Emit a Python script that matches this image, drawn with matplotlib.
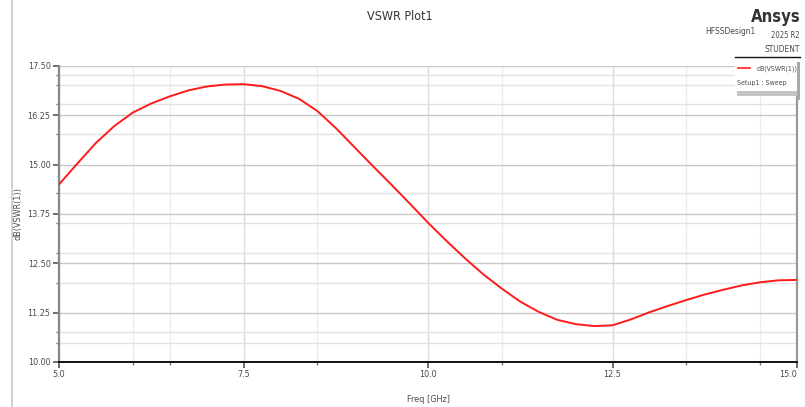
"""Ansys-style VSWR plot: dB(VSWR(1)) against frequency."""

import matplotlib
import matplotlib.pyplot as plt
from matplotlib import font_manager
from matplotlib.patches import Rectangle

matplotlib.use('Agg')

# values (GHz, dB)
freq_ghz = [5.0, 5.25, 5.5, 5.75, 6.0, 6.25, 6.5, 6.75, 7.0, 7.25, 7.5, 7.75,
            8.0, 8.25, 8.5, 8.75, 9.0, 9.25, 9.5, 9.75, 10.0, 10.25, 10.5, 10.75,
            11.0, 11.25, 11.5, 11.75, 12.0, 12.25, 12.5, 12.75, 13.0, 13.25,
            13.5, 13.75, 14.0, 14.25, 14.5, 14.75, 15.0]
vswr_db = [14.50, 15.03, 15.55, 15.98, 16.32, 16.55, 16.73, 16.88, 16.98, 17.03,
           17.04, 16.99, 16.87, 16.67, 16.36, 15.93, 15.45, 14.97, 14.50, 14.02,
           13.53, 13.07, 12.63, 12.22, 11.86, 11.53, 11.27, 11.07, 10.96, 10.91,
           10.93, 11.08, 11.26, 11.42, 11.57, 11.71, 11.83, 11.94, 12.02, 12.07,
           12.08]

x_ticks = [5.0, 7.5, 10.0, 12.5, 15.0]
x_tick_labels = ['5.0', '7.5', '10.0', '12.5', '15.0']
x_minor = [6.0, 6.5, 8.5, 11.0, 13.5, 14.5]
y_ticks = [10.0, 11.25, 12.5, 13.75, 15.0, 16.25, 17.5]
y_tick_labels = ['10.00', '11.25', '12.50', '13.75', '15.00', '16.25', '17.50']
y_minor = [10.48, 10.76, 12.0, 12.76, 13.52, 14.28, 15.78, 16.54, 17.02, 17.27]

names = {f.name for f in font_manager.fontManager.ttflist}
FONT = ['Liberation Sans Narrow'] if 'Liberation Sans Narrow' in names else ['DejaVu Sans']
STRETCH = 'condensed'
TXT = '#4a4a4a'


def txt(x_px, y_px, s, **kw):
    kw.setdefault('family', FONT)
    kw.setdefault('color', TXT)
    kw.setdefault('stretch', STRETCH)
    return fig.text(x_px / 805, 1 - y_px / 407, s, **kw)


fig = plt.figure(figsize=(8.05, 4.07), dpi=100)
ax = fig.add_axes([59 / 805, 1 - 362 / 407, (797 - 59) / 805, (362 - 66) / 407])

ax.plot(freq_ghz, vswr_db, color='#ff1a1a', lw=1.4, zorder=3,
        solid_joinstyle='round', solid_capstyle='round')

ax.set_xlim(5.0, 15.0)
ax.set_ylim(10.0, 17.5)
ax.set_xticks(x_ticks)
ax.set_xticklabels(x_tick_labels)
ax.set_xticks(x_minor, minor=True)
ax.set_yticks(y_ticks)
ax.set_yticklabels(y_tick_labels)
ax.set_yticks(y_minor, minor=True)

ax.grid(True, which='major', axis='y', color='#c8c8c8', lw=1.0)
ax.grid(True, which='minor', axis='y', color='#e2e2e2', lw=1.0)
ax.grid(True, which='major', axis='x', color='#dcdcdc', lw=1.0)
ax.grid(True, which='minor', axis='x', color='#ececec', lw=1.0)
ax.set_axisbelow(True)

ax.tick_params(axis='both', which='major', direction='out', length=4, width=1.2,
               color='#555555', labelsize=6.5, labelcolor=TXT, pad=2)
ax.tick_params(axis='both', which='minor', direction='out', length=2.5, width=1.0,
               color='#777777')
for lbl in ax.get_xticklabels() + ax.get_yticklabels():
    lbl.set_family(FONT)
    lbl.set_stretch(STRETCH)
ax.get_xticklabels()[-1].set_horizontalalignment('right')
ax.get_xticklabels()[-1].set_x(15.0)

ax.spines['top'].set_visible(False)
ax.spines['bottom'].set_color('#111111')
ax.spines['bottom'].set_linewidth(1.4)
ax.spines['left'].set_color('#888888')
ax.spines['left'].set_linewidth(1.6)
ax.spines['right'].set_color('#999999')
ax.spines['right'].set_linewidth(1.6)

ax.set_xlabel('Freq [GHz]', fontsize=6.5, color=TXT, family=FONT, stretch=STRETCH)
ax.xaxis.set_label_coords(0.5, -0.11)
ax.set_ylabel('dB(VSWR(1))', fontsize=6.5, color=TXT, family=FONT, stretch=STRETCH)
ax.yaxis.set_label_coords(-0.05, 0.5)

# header texts
txt(400, 16, 'VSWR Plot1', ha='center', va='center', fontsize=9, color='#333333')
txt(801, 17, 'Ansys', ha='right', va='center', fontsize=12, weight='bold',
    color='#333333')
txt(755, 32, 'HFSSDesign1', ha='right', va='center', fontsize=6)
txt(800, 35, '2025 R2', ha='right', va='center', fontsize=5.5)
txt(800, 49, 'STUDENT', ha='right', va='center', fontsize=6)
fig.add_artist(plt.Line2D([735 / 805, 800 / 805], [1 - 57 / 407, 1 - 57 / 407],
                          color='#111111', lw=1.0))

# outer frame line on the left
fig.add_artist(plt.Line2D([12 / 805, 12 / 805], [0, 1], color='#c8c8c8', lw=1.2))

# legend box
fig.add_artist(Rectangle((737 / 805, 1 - 96 / 407), 60 / 805, 5 / 407,
                         transform=fig.transFigure, color='#c4c4c4', lw=0, zorder=5))
fig.add_artist(Rectangle((735 / 805, 1 - 91 / 407), 62 / 805, 31 / 407,
                         transform=fig.transFigure, facecolor='white',
                         edgecolor='none', zorder=5))
fig.add_artist(Rectangle((797 / 805, 1 - 100 / 407), 3 / 805, 38 / 407,
                         transform=fig.transFigure, color='#a8a8a8', lw=0, zorder=6))
fig.add_artist(plt.Line2D([738 / 805, 750 / 805], [1 - 68 / 407, 1 - 68 / 407],
                          color='#ff1a1a', lw=1.2, zorder=7))
txt(757, 69, 'dB(VSWR(1))', ha='left', va='center', fontsize=5, zorder=7)
txt(737, 83, 'Setup1 : Sweep', ha='left', va='center', fontsize=5, zorder=7)

fig.savefig('out.png', dpi=100)
plt.close(fig)
